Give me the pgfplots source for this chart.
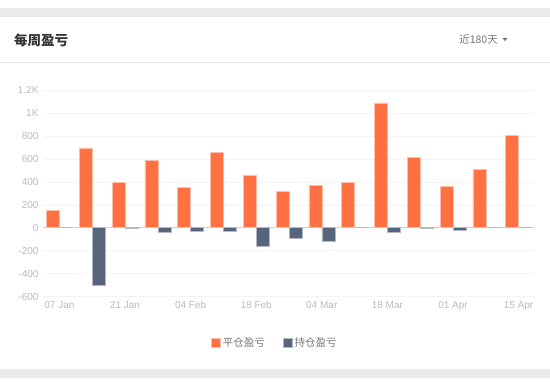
\documentclass[border=0pt]{standalone}
\usepackage{fontspec}
\setmainfont{Liberation Sans}
\newfontfamily\cjk{Noto Sans CJK SC}
\usepackage{pgfplots}
\pgfplotsset{compat=1.18}
\definecolor{orng}{HTML}{FF7043}
\definecolor{slate}{HTML}{56647C}
\definecolor{band}{HTML}{EBEBEC}
\definecolor{sepc}{HTML}{E6E6E6}
\definecolor{tickc}{HTML}{BBBBBB}
\definecolor{gridc}{HTML}{F3F3F3}
\definecolor{zeroc}{HTML}{D0D0D0}
\definecolor{titlec}{HTML}{333333}
\definecolor{subc}{HTML}{777777}
\begin{document}
\begin{tikzpicture}
\useasboundingbox (0pt,0pt) rectangle (550pt,388pt);
\fill[white] (0pt,0pt) rectangle (550pt,388pt);
\fill[band] (0pt,371pt) rectangle (550pt,380pt);
\fill[band] (0pt,10pt) rectangle (550pt,19pt);
\node[anchor=west, inner sep=0pt, text=titlec, font=\cjk\bfseries\fontsize{13.5}{14}\selectfont] at (14pt,348pt) {每周盈亏};
\node[anchor=east, inner sep=0pt, text=subc, font=\cjk\fontsize{10.5}{12}\selectfont] at (498pt,348.5pt) {近180天};
\fill[subc] (502.5pt,350pt) -- (507.5pt,350pt) -- (505pt,346.8pt) -- cycle;
\draw[sepc, line width=0.8pt] (0pt,326pt) -- (550pt,326pt);
\begin{axis}[
  at={(43pt,91.3pt)}, anchor=south west,
  scale only axis, width=492pt, height=206.7pt,
  xmin=-0.5, xmax=14.5, ymin=-600, ymax=1200,
  axis line style={draw=none},
  major tick length=0pt,
  ytick={-600,-400,-200,0,200,400,600,800,1000,1200},
  yticklabels={-600,-400,-200,0,200,400,600,800,1K,1.2K},
  xtick={0,2,4,6,8,10,12,14},
  xticklabels={07 Jan,21 Jan,04 Feb,18 Feb,04 Mar,18 Mar,01 Apr,15 Apr},
  /pgf/number format/assume math mode=true,
  ticklabel style={font=\fontsize{10}{12}\selectfont, text=tickc},
  yticklabel style={xshift=-1pt},
  xticklabel style={yshift=-1pt},
  ymajorgrids, grid style={gridc, line width=0.6pt},
  extra y ticks={0}, extra y tick labels={},
  extra y tick style={grid style={zeroc, line width=0.8pt}},
  ybar, bar width=13pt,
  legend columns=2,
  legend style={at={(0.4715,-0.224)}, anchor=center, draw=none, fill=none,
    font=\cjk\fontsize{10.5}{12}\selectfont, text=subc,
    /tikz/every even column/.append style={column sep=16pt}},
  legend image code/.code={\fill[#1] (0pt,-4.5pt) rectangle (9pt,4.5pt);},
]
\addplot[ybar, bar shift=-6.5pt, fill=orng, draw=white!55!orng, line width=0.6pt] coordinates {
(0,150) (1,695) (2,395) (3,587) (4,355) (5,654) (6,456) (7,317) (8,369) (9,395) (10,1087) (11,613) (12,363) (13,508) (14,805)};
\addlegendentry{平仓盈亏}
\addplot[ybar, bar shift=6.5pt, fill=slate, draw=white!55!slate, line width=0.6pt] coordinates {
(0,0) (1,-499) (2,-5) (3,-40) (4,-29) (5,-31) (6,-165) (7,-95) (8,-118) (9,0) (10,-40) (11,-5) (12,-26) (13,0) (14,0)};
\addlegendentry{持仓盈亏}
\end{axis}
\end{tikzpicture}
\end{document}
